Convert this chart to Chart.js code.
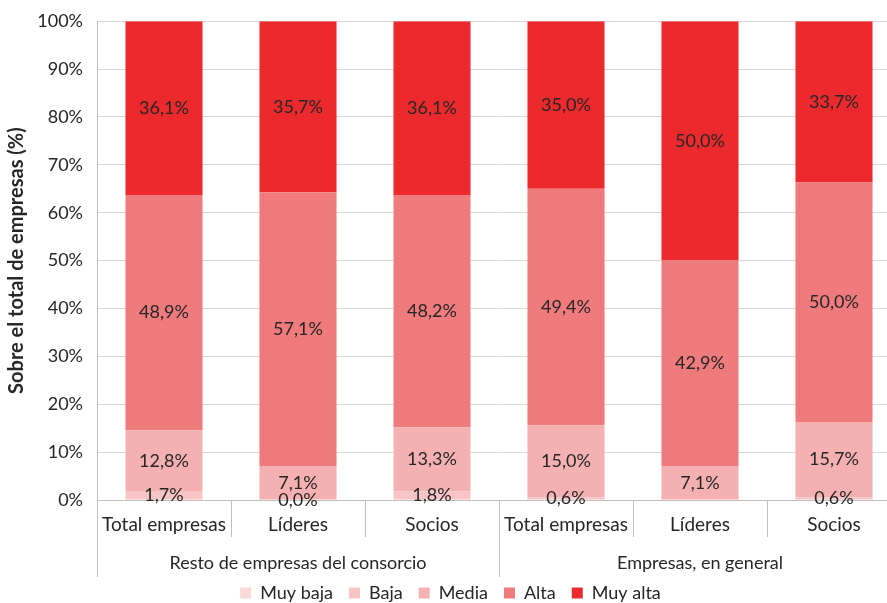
<!DOCTYPE html>
<html>
<head>
<meta charset="utf-8">
<script src="https://cdn.jsdelivr.net/npm/chart.js@4/dist/chart.umd.min.js"></script>
<style>
  html, body { margin: 0; padding: 0; overflow: hidden; background: #fff; }
</style>
</head>
<body>
<canvas id="grafica1" width="902" height="603"></canvas>
<script>
const categorias = ['Total empresas', 'Líderes', 'Socios', 'Total empresas', 'Líderes', 'Socios'];
const grupos = ['Resto de empresas del consorcio', 'Empresas, en general'];
const niveles = ['Muy baja', 'Baja', 'Media', 'Alta', 'Muy alta'];
const yTicks = [0, 10, 20, 30, 40, 50, 60, 70, 80, 90, 100];

// valores en % (null = sin etiqueta)
const muyBaja = [null, null, null, null, null, null];
const baja    = [1.7, 0.0, 1.8, 0.6, null, 0.6];
const media   = [12.8, 7.1, 13.3, 15.0, 7.1, 15.7];
const alta    = [48.9, 57.1, 48.2, 49.4, 42.9, 50.0];
const muyAlta = [36.1, 35.7, 36.1, 35.0, 50.0, 33.7];

const series = [muyBaja, baja, media, alta, muyAlta];
const colores = ['#FAD9D9', '#F8C4C5', '#F5B1B2', '#F07B7C', '#EC2A2D'];
const fuente = 'Lato, "Open Sans", sans-serif';
const gris = '#262626';

// grafico 100% apilado: cada barra se escala a su total
const totales = categorias.map((c, j) => series.reduce((s, arr) => s + (arr[j] || 0), 0));

const datasets = series.map((arr, i) => ({
    label: niveles[i],
    valores: arr,
    data: arr.map((v, j) => v === null ? null : v / totales[j] * 100),
    backgroundColor: colores[i],
    borderWidth: 0,
    categoryPercentage: 1,
    barPercentage: 0.575
}));

// etiquetas dentro de cada segmento
const etiquetas = {
    id: 'etiquetas',
    afterDatasetsDraw(chart) {
        const ctx = chart.ctx;
        ctx.save();
        ctx.font = '18px ' + fuente;
        ctx.fillStyle = gris;
        ctx.textAlign = 'center';
        ctx.textBaseline = 'middle';
        chart.data.datasets.forEach((ds, i) => {
            chart.getDatasetMeta(i).data.forEach((bar, j) => {
                const v = ds.valores[j];
                if (v === null) return;
                const p = bar.getProps(['x', 'y', 'base'], true);
                ctx.fillText(v.toFixed(1).replace('.', ',') + '%', p.x, (p.y + p.base) / 2);
            });
        });
        ctx.restore();
    }
};

// eje X con dos niveles de categorias
const ejeX = {
    id: 'ejeX',
    afterDraw(chart) {
        const ctx = chart.ctx, x = chart.scales.x, a = chart.chartArea;
        const paso = x.getPixelForValue(1) - x.getPixelForValue(0);
        ctx.save();
        ctx.strokeStyle = '#BFBFBF';
        ctx.lineWidth = 1;
        for (let i = 0; i <= categorias.length; i++) {
            const px = Math.round(x.getPixelForValue(i) - paso / 2) + 0.5;
            const largo = (i % 3 === 0) ? 77 : 37;
            ctx.beginPath();
            ctx.moveTo(px, a.bottom);
            ctx.lineTo(px, a.bottom + largo);
            ctx.stroke();
        }
        ctx.font = '19px ' + fuente;
        ctx.fillStyle = gris;
        ctx.textAlign = 'center';
        ctx.textBaseline = 'middle';
        categorias.forEach((c, i) => ctx.fillText(c, x.getPixelForValue(i), a.bottom + 25));
        ctx.font = '18px ' + fuente;
        grupos.forEach((g, k) => {
            const cx = (x.getPixelForValue(k * 3) + x.getPixelForValue(k * 3 + 2)) / 2;
            ctx.fillText(g, cx, a.bottom + 63);
        });
        ctx.restore();
    }
};

new Chart(document.getElementById('grafica1').getContext('2d'), {
    type: 'bar',
    data: { labels: categorias, datasets: datasets },
    plugins: [etiquetas, ejeX],
    options: {
        responsive: false,
        devicePixelRatio: 1,
        animation: false,
        layout: { padding: { top: 0, right: 1, left: 0, bottom: -9 } },
        plugins: {
            legend: {
                position: 'bottom',
                labels: { boxWidth: 11, boxHeight: 11, padding: 16, color: gris, font: { family: fuente, size: 18 } }
            },
            tooltip: { enabled: false }
        },
        scales: {
            x: {
                stacked: true,
                ticks: { display: false },
                grid: { display: false },
                border: { color: '#BFBFBF' },
                afterFit: s => { s.height = 68; }
            },
            y: {
                stacked: true,
                min: 0,
                max: 100,
                afterBuildTicks: s => { s.ticks = yTicks.map(v => ({ value: v })); },
                ticks: { padding: 14, color: gris, font: { family: fuente, size: 18, lineHeight: 0.8 }, callback: v => v + '%' },
                grid: { color: '#D9D9D9', drawTicks: false },
                border: { color: '#BFBFBF' },
                title: { display: true, text: 'Sobre el total de empresas (%)', color: gris, padding: { top: 5, bottom: 0 }, font: { family: fuente, size: 20, weight: 'bold' } },
                afterFit: s => { s.width = 97; }
            }
        }
    }
});
</script>
</body>
</html>
